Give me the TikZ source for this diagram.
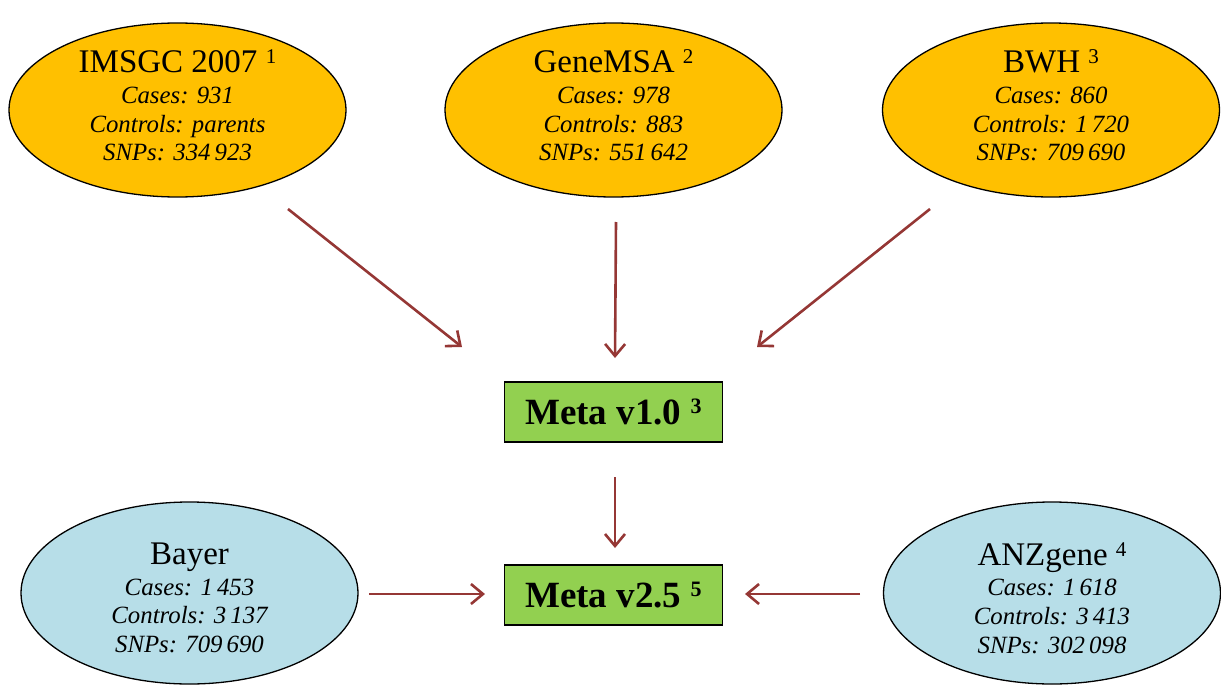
\documentclass[tikz,border=0pt]{standalone}
\usepackage{fontspec}
\setmainfont{Liberation Serif}
\usetikzlibrary{shapes.geometric,arrows.meta}
\definecolor{cohort}{HTML}{FFC000}
\definecolor{repl}{HTML}{B7DEE8}
\definecolor{metagreen}{HTML}{92D050}
\definecolor{arrowred}{HTML}{953735}
\newcommand{\ttl}[2]{{\upshape\fontsize{33}{33}\selectfont #1\ifx\relax#2\relax\else~\raisebox{9pt}{\fontsize{21}{21}\selectfont #2}\fi}\\[2pt]}
\newcommand{\metasup}[1]{~\raisebox{11pt}{\fontsize{22}{22}\selectfont #1}}
\begin{document}
\begin{tikzpicture}[x=1pt,y=-1pt,
  cohortell/.style={ellipse, draw=black, line width=1.3pt, fill=cohort, minimum width=337pt, minimum height=174pt, inner sep=0pt},
  replell/.style={ellipse, draw=black, line width=1.3pt, fill=repl, minimum width=337pt, minimum height=182pt, inner sep=0pt},
  infotext/.style={align=center, inner sep=0pt, font=\fontsize{24.8}{28.7}\selectfont\itshape},
  metabox/.style={rectangle, draw=black, line width=1.5pt, fill=metagreen, minimum width=218pt, minimum height=60pt, inner sep=0pt, font=\fontsize{37}{37}\selectfont\bfseries},
  flow/.style={draw=arrowred, line width=2.6pt, -{Straight Barb[length=12pt,width=20pt]}}
]
\useasboundingbox (0,0) rectangle (1221,685);

% cohort ellipses
\node[cohortell] (imsgc) at (177.5,110) {};
\node[cohortell] (genemsa) at (613.5,110) {};
\node[cohortell] (bwh) at (1051,110) {};
\node[replell] (bayer) at (189.5,593) {};
\node[replell] (anz) at (1052,593) {};

% texts
\node[infotext] (imsgc-t) at (177.5,105.6) {\ttl{IMSGC 2007}{1}Cases: 931\\Controls: parents\\SNPs: 334\,923};
\node[infotext] (genemsa-t) at (613.5,105.6) {\ttl{GeneMSA}{2}Cases: 978\\Controls: 883\\SNPs: 551\,642};
\node[infotext] (bwh-t) at (1051,105.6) {\ttl{BWH}{3}Cases: 860\\Controls: 1\,720\\SNPs: 709\,690};
\node[infotext] (bayer-t) at (189.5,598) {\ttl{Bayer}{}Cases: 1\,453\\Controls: 3\,137\\SNPs: 709\,690};
\node[infotext] (anz-t) at (1052,598) {\ttl{ANZgene}{4}Cases: 1\,618\\Controls: 3\,413\\SNPs: 302\,098};

% meta boxes
\node[metabox] (meta1) at (613.5,412) {Meta v1.0\metasup{3}};
\node[metabox] (meta2) at (613.5,595) {Meta v2.5\metasup{5}};

% arrow end points
\coordinate (a1s) at (288,209);
\coordinate (a1e) at (462,347);
\coordinate (a2s) at (616,222);
\coordinate (a2e) at (615,358);
\coordinate (a3s) at (930,209);
\coordinate (a3e) at (757,347);
\coordinate (a4s) at (615,477);
\coordinate (a4e) at (615,548);
\coordinate (a5s) at (369,594);
\coordinate (a5e) at (485,594);
\coordinate (a6s) at (860,594);
\coordinate (a6e) at (745,594);

\draw[flow] (a1s) -- (a1e);
\draw[flow] (a2s) -- (a2e);
\draw[flow] (a3s) -- (a3e);
\draw[flow] (a4s) -- (a4e);
\draw[flow] (a5s) -- (a5e);
\draw[flow] (a6s) -- (a6e);
\end{tikzpicture}
\end{document}
